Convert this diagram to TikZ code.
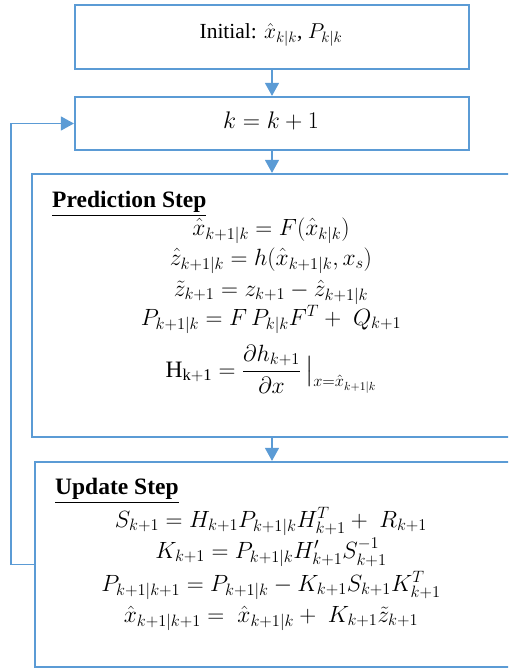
\RequirePackage{fix-cm}
\documentclass[tikz,border=0pt]{standalone}
\usepackage{amsmath}
\usepackage{fontspec}
\setmainfont{Liberation Serif}
\usetikzlibrary{arrows.meta}
\definecolor{boxblue}{HTML}{5B9BD5}
\tikzset{
  stagebox/.style={draw=boxblue, line width=2.2pt, rectangle, inner sep=0pt},
  conn/.style={draw=boxblue, line width=1.3pt, -{Triangle[width=14pt,length=13pt]}},
  eq/.style={anchor=base, inner sep=0pt, font=\fontsize{23.5}{28}\selectfont},
  ttl/.style={anchor=base west, inner sep=0pt, font=\fontsize{23.5}{27}\selectfont\bfseries},
}
\begin{document}
\begin{tikzpicture}[x=1pt,y=-1pt]
\useasboundingbox (0,0) rectangle (508,671);
\clip (0,0) rectangle (508,671);
% boxes
\node[stagebox, minimum width=394pt, minimum height=64pt] (init) at (272,37) {};
\node[stagebox, minimum width=394pt, minimum height=53pt] (kbox) at (272,123.5) {};
\node[stagebox, minimum width=480pt, minimum height=263pt] (pred) at (272,305.5) {};
\node[stagebox, minimum width=477pt, minimum height=205pt] (upd) at (273.5,564.5) {};
% texts
\node[eq, font=\fontsize{21.5}{25}\selectfont] (tinit) at (271,39) {Initial: $\hat{x}_{k|k}$, $P_{k|k}$};
\node[eq, font=\fontsize{24}{28}\selectfont] (tk) at (271,129) {$k=k+1$};
\node[ttl] (tpred) at (52,207) {\underline{Prediction Step}};
\node[eq] (p1) at (271,235) {$\hat{x}_{k+1|k}=F(\hat{x}_{k|k})$};
\node[eq] (p2) at (271,265) {$\hat{z}_{k+1|k}=h(\hat{x}_{k+1|k},x_s)$};
\node[eq] (p3) at (271,296) {$\tilde{z}_{k+1}=z_{k+1}-\hat{z}_{k+1|k}$};
\node[eq] (p4) at (271,325) {$P_{k+1|k}=F\,P_{k|k}F^{T}+\;Q_{k+1}$};
\node[eq] (p5) at (271,377) {$\mathrm{H}_{\mathrm{k+1}}=\dfrac{\partial h_{k+1}}{\partial x}\,\big|_{x=\hat{x}_{k+1|k}}$};
\node[ttl] (tupd) at (55,494) {\underline{Update Step}};
\node[eq] (u1) at (271,527) {$S_{k+1}=H_{k+1}P_{k+1|k}H_{k+1}^{T}+\;R_{k+1}$};
\node[eq] (u2) at (271,558) {$K_{k+1}=P_{k+1|k}H_{k+1}'S_{k+1}^{-1}$};
\node[eq] (u3) at (271,591) {$P_{k+1|k+1}=P_{k+1|k}-K_{k+1}S_{k+1}K_{k+1}^{T}$};
\node[eq] (u4) at (271,622) {$\hat{x}_{k+1|k+1}=\;\hat{x}_{k+1|k}+\;K_{k+1}\tilde{z}_{k+1}$};
% connectors
\draw[conn] (init.south -| 272,0) -- (kbox.north -| 272,0);
\draw[conn] (kbox.south -| 272,0) -- (pred.north -| 272,0);
\draw[conn] (pred.south -| 272,0) -- (upd.north -| 272,0);
\coordinate (fbA) at (11,564.5);
\coordinate (fbB) at (11,123.5);
\draw[conn] (upd.west) -- (fbA) -- (fbB) -- (kbox.west);
\end{tikzpicture}
\end{document}
